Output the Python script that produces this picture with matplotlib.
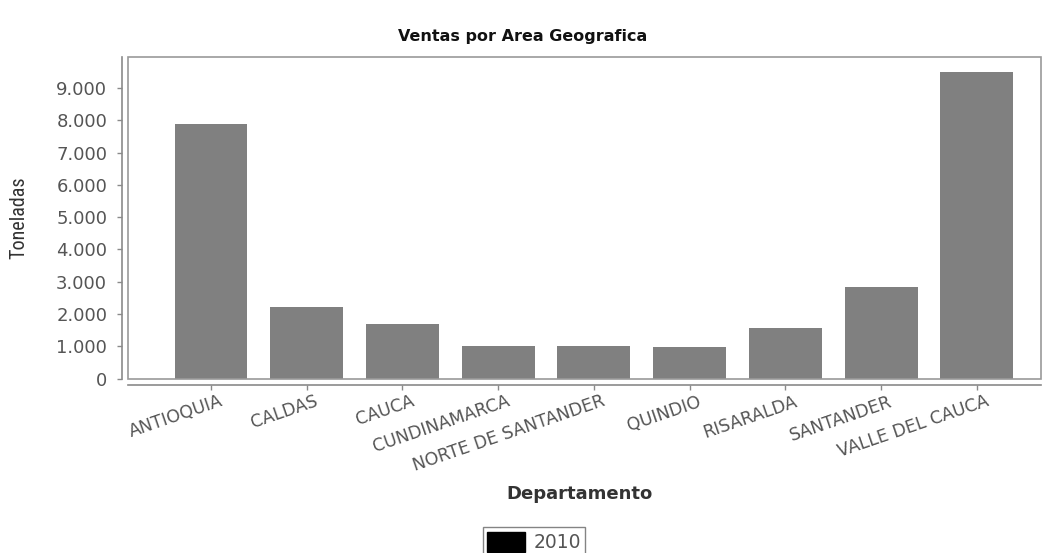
import matplotlib
matplotlib.use("Agg")
import matplotlib.pyplot as plt
from matplotlib.patches import Rectangle, Patch
from matplotlib.ticker import FuncFormatter, MultipleLocator
from matplotlib.transforms import ScaledTranslation

categories = ["ANTIOQUIA", "CALDAS", "CAUCA", "CUNDINAMARCA", "NORTE DE SANTANDER",
              "QUINDIO", "RISARALDA", "SANTANDER", "VALLE DEL CAUCA"]
values_2010 = [7880, 2200, 1700, 1000, 1000, 990, 1570, 2840, 9500]
series_name = "2010"
title = "Ventas por Area Geografica"
xlabel = "Departamento"
ylabel = "Toneladas"

W, H = 1046, 553
fig = plt.figure(figsize=(W / 100, H / 100), dpi=100)
left, right, top, bottom = 128, 1041, 56.5, 378.5
ax = fig.add_axes([left / W, 1 - bottom / H, (right - left) / W, (bottom - top) / H])

x = list(range(len(categories)))
ax.bar(x, values_2010, width=0.762, color="#808080", edgecolor="none", zorder=2)

ax.set_xlim(-0.867, 8.67)
ax.set_ylim(0, max(values_2010) * 1.05)
ax.yaxis.set_major_locator(MultipleLocator(1000))
ax.yaxis.set_major_formatter(FuncFormatter(lambda v, p: f"{int(v):,}".replace(",", ".")))

# plot outline
ax.add_patch(Rectangle((0, 0), 1, 1, transform=ax.transAxes, fill=False,
                       edgecolor="#9a9a9a", lw=1.2, zorder=3, clip_on=False))
for s in ["top", "right"]:
    ax.spines[s].set_visible(False)
for s in ["left", "bottom"]:
    ax.spines[s].set_position(("outward", 4.5))
    ax.spines[s].set_color("#8a8a8a")
    ax.spines[s].set_linewidth(1.2)

ax.tick_params(axis="both", colors="#8a8a8a", length=3.5, width=1)
ax.tick_params(axis="y", labelcolor="#555555", labelsize=13, pad=7)
ax.tick_params(axis="x", labelcolor="#555555", labelsize=12.5, pad=2)
ax.set_xticks(x)
ax.set_xticklabels(categories, rotation=19, ha="right", va="top", rotation_mode="anchor")
for lbl in ax.get_xticklabels():
    lbl.set_transform(lbl.get_transform() + ScaledTranslation(8 / 100, 0, fig.dpi_scale_trans))

fig.text(523 / W, 1 - 37 / H, title, ha="center", va="center", fontsize=11.5,
         fontweight="bold", color="#111111")
fig.text(580 / W, 1 - 494 / H, xlabel, ha="center", va="center", fontsize=13,
         fontweight="bold", color="#333333")
fig.text(19 / W, 1 - 218 / H, ylabel, ha="center", va="center", rotation=90, fontsize=14.5,
         color="#333333",
         family=["Liberation Sans Narrow", "DejaVu Sans Condensed", "Roboto Condensed", "DejaVu Sans"])

handles = [Patch(facecolor="black", edgecolor="black", label=series_name)]
leg = fig.legend(handles=handles, loc="upper center", bbox_to_anchor=(534 / W, 1 - 527 / H),
                 frameon=True, fancybox=False, fontsize=13.5, handlelength=2.0,
                 handleheight=1.3, handletextpad=0.45, borderpad=0.25, borderaxespad=0)
leg.get_frame().set_edgecolor("#666666")
leg.get_frame().set_linewidth(1.0)
for t in leg.get_texts():
    t.set_color("#555555")

fig.savefig("out.png", dpi=100)
